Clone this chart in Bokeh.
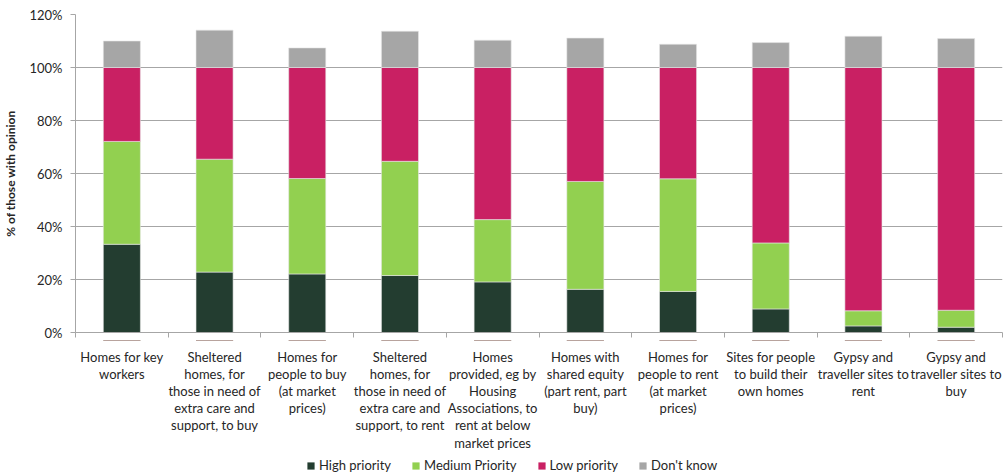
from bokeh.plotting import figure
from bokeh.layouts import column
from bokeh.models import (ColumnDataSource, Range1d, FixedTicker, PrintfTickFormatter,
                          Legend, LegendItem)
from bokeh.core.properties import value
from bokeh.embed import file_html
from bokeh.resources import INLINE

categories = [
    "Homes for key workers",
    "Sheltered homes, for those in need of extra care and support, to buy",
    "Homes for people to buy (at market prices)",
    "Sheltered homes, for those in need of extra care and support, to rent",
    "Homes provided, eg by Housing Associations, to rent at below market prices",
    "Homes with shared equity (part rent, part buy)",
    "Homes for people to rent (at market prices)",
    "Sites for people to build their own homes",
    "Gypsy and traveller sites to rent",
    "Gypsy and traveller sites to buy",
]
tick_labels = [
    "Homes for key\nworkers",
    "Sheltered\nhomes, for\nthose in need of\nextra care and\nsupport, to buy",
    "Homes for\npeople to buy\n(at market\nprices)",
    "Sheltered\nhomes, for\nthose in need of\nextra care and\nsupport, to rent",
    "Homes\nprovided, eg by\nHousing\nAssociations, to\nrent at below\nmarket prices",
    "Homes with\nshared equity\n(part rent, part\nbuy)",
    "Homes for\npeople to rent\n(at market\nprices)",
    "Sites for people\nto build their\nown homes",
    "Gypsy and\ntraveller sites to\nrent",
    "Gypsy and\ntraveller sites to\nbuy",
]
series_names = ["High priority", "Medium Priority", "Low priority", "Don't know"]
high = [33.3, 22.8, 22.1, 21.5, 19.1, 16.3, 15.5, 8.9, 2.5, 2.0]
medium = [38.8, 42.6, 36.0, 43.1, 23.5, 40.7, 42.5, 24.9, 5.7, 6.4]
low = [27.9, 34.6, 41.9, 35.4, 57.4, 43.0, 42.0, 66.2, 91.8, 91.6]
dont_know = [10.0, 14.1, 7.4, 13.7, 10.3, 11.1, 8.8, 9.4, 11.8, 10.9]
y_ticks = [0, 20, 40, 60, 80, 100, 120]

colors = ["#233d30", "#92d050", "#c92063", "#a6a6a6"]
FONT = "Lato"
TXT = "#262626"
AX = "#a6a6a6"
N = len(categories)
STACK = ["high", "medium", "low", "dk"]

x = [i + 0.5 for i in range(N)]
src = ColumnDataSource(dict(x=x, cat=categories, high=high, medium=medium,
                            low=low, dk=dont_know))

# ---------- main chart ----------
p = figure(width=1004, height=340, x_range=Range1d(0, N),
           y_range=Range1d(0, 120), output_backend="svg", toolbar_location=None,
           min_border_left=72, min_border_right=2, min_border_top=14,
           min_border_bottom=8)
p.outline_line_color = None

p.vbar_stack(STACK, x="x", width=0.4, source=src, fill_color=colors,
             line_color="#e8e8e8", line_width=0.6)

xa = p.xaxis[0]
xa.ticker = FixedTicker(ticks=x, minor_ticks=list(range(N + 1)))
xa.major_label_overrides = {xv: "" for xv in x}
xa.major_label_text_font_size = "0px"
xa.major_label_standoff = 0
xa.major_tick_out = 0
xa.major_tick_in = 0
xa.minor_tick_out = 5
xa.minor_tick_in = 0
xa.minor_tick_line_color = AX
xa.axis_line_color = AX

ya = p.yaxis[0]
ya.ticker = FixedTicker(ticks=y_ticks, minor_ticks=[])
ya.formatter = PrintfTickFormatter(format="%d%%")
ya.major_tick_out = 5
ya.major_tick_in = 0
ya.major_tick_line_color = AX
ya.axis_line_color = AX
ya.major_label_text_font = FONT
ya.major_label_text_font_size = "13px"
ya.major_label_text_color = TXT
ya.major_label_standoff = 8
ya.axis_label = "% of those with opinion"
ya.axis_label_text_font = FONT
ya.axis_label_text_font_style = "bold"
ya.axis_label_text_font_size = "12px"
ya.axis_label_text_color = TXT
ya.axis_label_standoff = 8

p.xgrid.grid_line_color = None
p.ygrid.ticker = FixedTicker(ticks=y_ticks)
p.ygrid.grid_line_color = AX
p.ygrid.grid_line_width = 1

# ---------- category labels + legend panel ----------
H2 = 135
q = figure(width=1004, height=H2, x_range=p.x_range,
           y_range=Range1d(-H2 - 3, -3),
           output_backend="svg", toolbar_location=None,
           min_border_left=72, min_border_right=2, min_border_top=0,
           min_border_bottom=0, x_axis_location=None, y_axis_location=None)
q.outline_line_color = None
q.xgrid.grid_line_color = None
q.ygrid.grid_line_color = None

lx, ly, lt = [], [], []
for xv, lab in zip(x, tick_labels):
    for j, line in enumerate(lab.split("\n")):
        lx.append(xv)
        ly.append(-(19 + 17.2 * j))
        lt.append(line)
q.text(x=lx, y=ly, text=lt, text_align="center", text_baseline="middle",
       text_font=value(FONT), text_font_size="13px", text_color=TXT)

# same series drawn in the label panel (they lie above its visible range) so the
# legend there can show their swatches
proxies = q.vbar_stack(STACK, x="x", width=0.4, source=src, fill_color=colors,
                       line_color=None)
lg = Legend(items=[LegendItem(label=n, renderers=[r])
                   for n, r in zip(series_names, proxies)],
            orientation="horizontal", location=(231, 2),
            glyph_width=9, glyph_height=9, label_standoff=4, spacing=20,
            padding=2, margin=0, border_line_color=None,
            background_fill_alpha=0, label_text_font=FONT,
            label_text_font_size="13px", label_text_color=TXT,
            label_height=14)
q.add_layout(lg, "center")

layout = column(p, q, spacing=0)
open("out.html", "w").write(file_html(layout, INLINE))
